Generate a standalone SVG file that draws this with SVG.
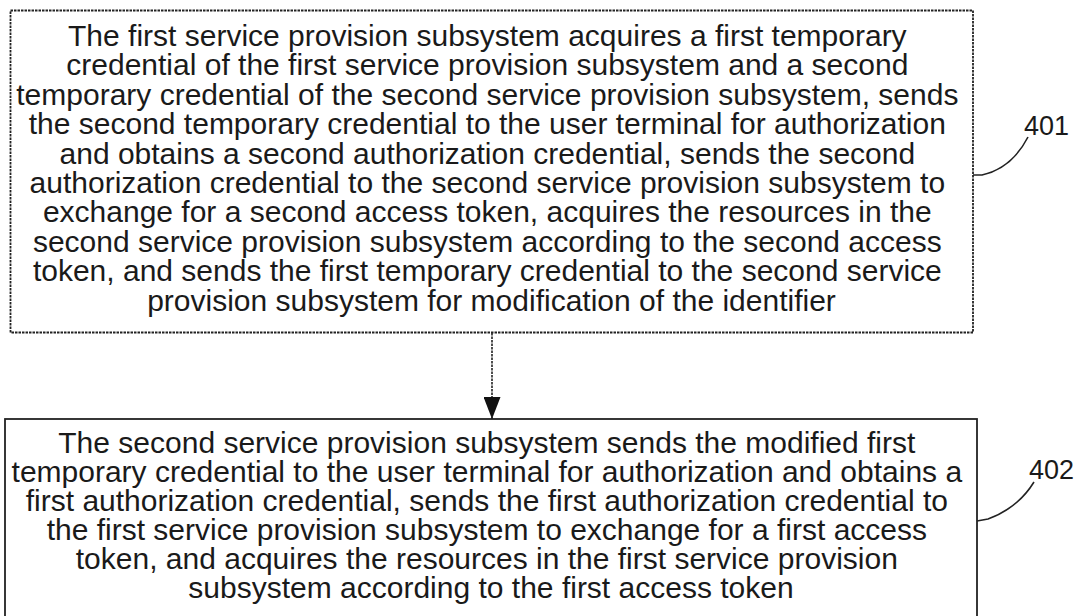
<svg xmlns="http://www.w3.org/2000/svg" width="1082" height="616" viewBox="0 0 1082 616">
<style>
.box{fill:#fff;stroke:#222;stroke-width:1.8}
.dot{stroke-dasharray:2.5 1}
.t{font-family:"Liberation Sans",Arial,sans-serif;font-size:30px;fill:#1a1a1a;text-anchor:middle}
.lbl{font-family:"Liberation Sans",Arial,sans-serif;font-size:27px;fill:#1a1a1a}
.ln{fill:none;stroke:#222;stroke-width:1.6}
</style>
<defs>
<marker id="ah" markerWidth="22" markerHeight="17" refX="22" refY="8.5" orient="auto" markerUnits="userSpaceOnUse" viewBox="0 0 22 17">
<path d="M0,0 L22,8.5 L0,17 Z" fill="#111"/>
</marker>
</defs>
<rect width="1082" height="616" fill="#fff"/>
<g id="node401">
<rect class="box dot" x="10.5" y="10.5" width="962.5" height="322"/>
<text class="t">
<tspan x="491.5" y="46">The first service provision subsystem acquires a first temporary</tspan>
<tspan x="491.5" y="75.4">credential of the first service provision subsystem and a second</tspan>
<tspan x="491.5" y="104.8">temporary credential of the second service provision subsystem, sends</tspan>
<tspan x="491.5" y="134.2">the second temporary credential to the user terminal for authorization</tspan>
<tspan x="491.5" y="163.6">and obtains a second authorization credential, sends the second</tspan>
<tspan x="491.5" y="193">authorization credential to the second service provision subsystem to</tspan>
<tspan x="491.5" y="222.4">exchange for a second access token, acquires the resources in the</tspan>
<tspan x="491.5" y="251.8">second service provision subsystem according to the second access</tspan>
<tspan x="491.5" y="281.2">token, and sends the first temporary credential to the second service</tspan>
<tspan x="491.5" y="310.6">provision subsystem for modification of the identifier</tspan>
</text>
<text class="lbl" x="1024" y="135">401</text>
</g>
<g id="node402">
<rect class="box" x="5" y="419" width="972" height="210"/>
<text class="t">
<tspan x="491" y="453">The second service provision subsystem sends the modified first</tspan>
<tspan x="491" y="482">temporary credential to the user terminal for authorization and obtains a</tspan>
<tspan x="491" y="511">first authorization credential, sends the first authorization credential to</tspan>
<tspan x="491" y="540">the first service provision subsystem to exchange for a first access</tspan>
<tspan x="491" y="569">token, and acquires the resources in the first service provision</tspan>
<tspan x="491" y="598">subsystem according to the first access token</tspan>
</text>
<text class="lbl" x="1029" y="479">402</text>
</g>
<g id="connectors">
<line class="ln dot" x1="492" y1="333" x2="492" y2="419" marker-end="url(#ah)"/>
<path class="ln" d="M973,175 L982,175 Q1012,168 1028,137"/>
<path class="ln" d="M977,521 L988,519 Q1018,508 1034,482"/>
</g>
</svg>
